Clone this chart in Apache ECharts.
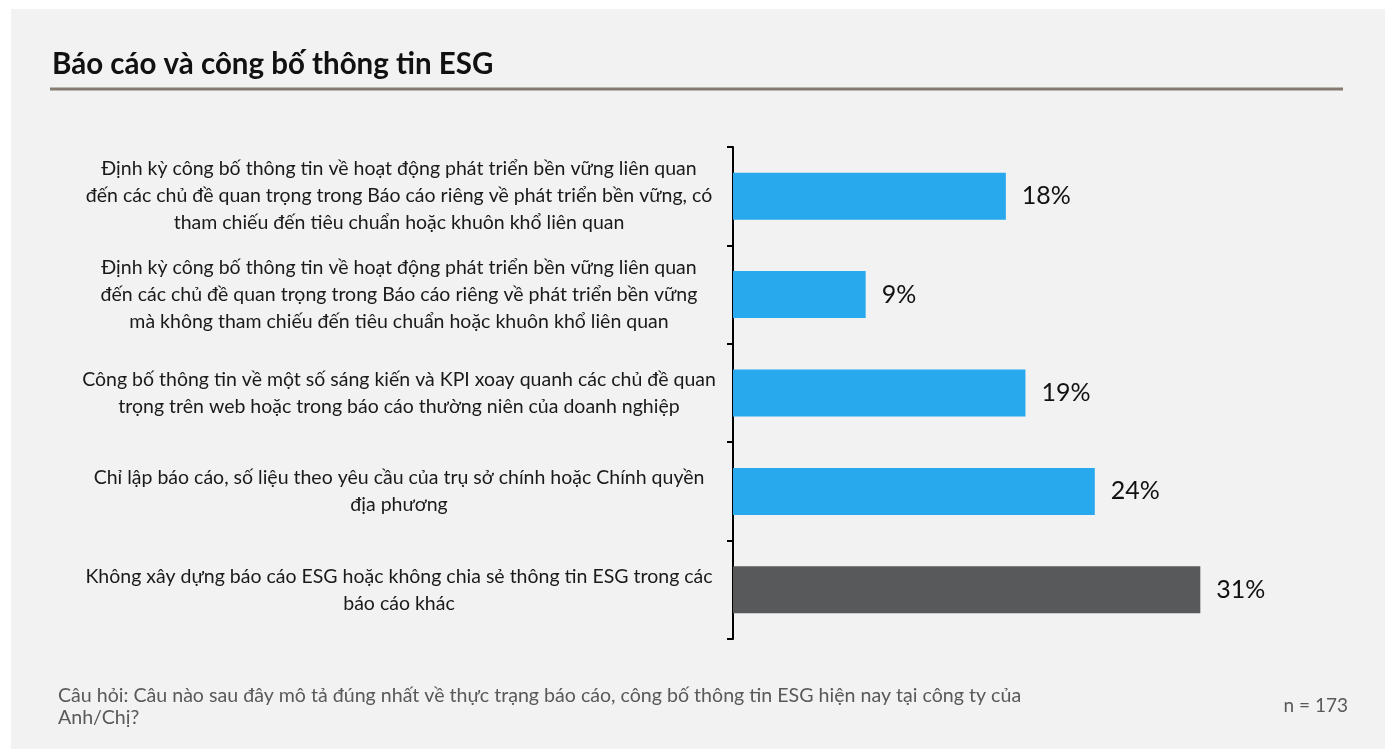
<!DOCTYPE html>
<html>
<head>
<meta charset="utf-8">
<script src="https://cdn.jsdelivr.net/npm/echarts@6/dist/echarts.min.js"></script>
<style>
html,body{margin:0;padding:0;background:#ffffff;}
#chart{width:1385px;height:749px;}
</style>
</head>
<body>
<div id="chart"></div>
<script>
const titleText = 'Báo cáo và công bố thông tin ESG';
const categories = [
  'Định kỳ công bố thông tin về hoạt động phát triển bền vững liên quan\nđến các chủ đề quan trọng trong Báo cáo riêng về phát triển bền vững, có\ntham chiếu đến tiêu chuẩn hoặc khuôn khổ liên quan',
  'Định kỳ công bố thông tin về hoạt động phát triển bền vững liên quan\nđến các chủ đề quan trọng trong Báo cáo riêng về phát triển bền vững\nmà không tham chiếu đến tiêu chuẩn hoặc khuôn khổ liên quan',
  'Công bố thông tin về một số sáng kiến và KPI xoay quanh các chủ đề quan\ntrọng trên web hoặc trong báo cáo thường niên của doanh nghiệp',
  'Chỉ lập báo cáo, số liệu theo yêu cầu của trụ sở chính hoặc Chính quyền\nđịa phương',
  'Không xây dựng báo cáo ESG hoặc không chia sẻ thông tin ESG trong các\nbáo cáo khác'
];
const values = [18.1, 8.8, 19.4, 24.0, 31.0];
const barColors = ['#28a9ee', '#28a9ee', '#28a9ee', '#28a9ee', '#58595b'];
const footnoteLines = [
  'Câu hỏi: Câu nào sau đây mô tả đúng nhất về thực trạng báo cáo, công bố thông tin ESG hiện nay tại công ty của',
  'Anh/Chị?'
];
const sampleText = 'n = 173';

const chart = echarts.init(document.getElementById('chart'), null, {renderer: 'canvas'});
const option = {
  backgroundColor: '#ffffff',
  animation: false,
  graphic: [
    {type: 'rect', z: -10, shape: {x: 11, y: 9, width: 1374, height: 740}, style: {fill: '#f2f2f2'}},
    {type: 'text', left: 52, top: 49, style: {text: titleText, font: 'bold 29.5px Lato', fill: '#111111'}},
    {type: 'rect', shape: {x: 50, y: 87.5, width: 1293, height: 3}, style: {fill: '#857b70'}},
    {type: 'text', left: 58, top: 685, style: {text: footnoteLines.join('\n'), font: '19.6px Lato', lineHeight: 22, fill: '#595959'}},
    {type: 'text', right: 37, top: 696, style: {text: sampleText, font: '19px Lato', fill: '#595959'}}
  ],
  grid: {left: 733, top: 147, width: 603, height: 492, containLabel: false},
  xAxis: {type: 'value', min: 0, max: 40, show: false},
  yAxis: {
    type: 'category',
    inverse: true,
    data: categories,
    axisLine: {show: true, lineStyle: {color: '#000000', width: 2}},
    axisTick: {show: true, length: 6, lineStyle: {color: '#000000', width: 2}},
    axisLabel: {
      align: 'center',
      margin: 334,
      fontFamily: 'Lato',
      fontSize: 19.5,
      lineHeight: 27,
      color: '#1a1a1a'
    }
  },
  series: [{
    type: 'bar',
    barWidth: 47,
    data: values.map((v, i) => ({value: v, itemStyle: {color: barColors[i]}})),
    label: {
      show: true,
      position: 'right',
      distance: 16,
      formatter: p => Math.round(p.value) + '%',
      fontFamily: 'Lato',
      fontSize: 25,
      color: '#111111'
    }
  }]
};
chart.setOption(option);
</script>
</body>
</html>
